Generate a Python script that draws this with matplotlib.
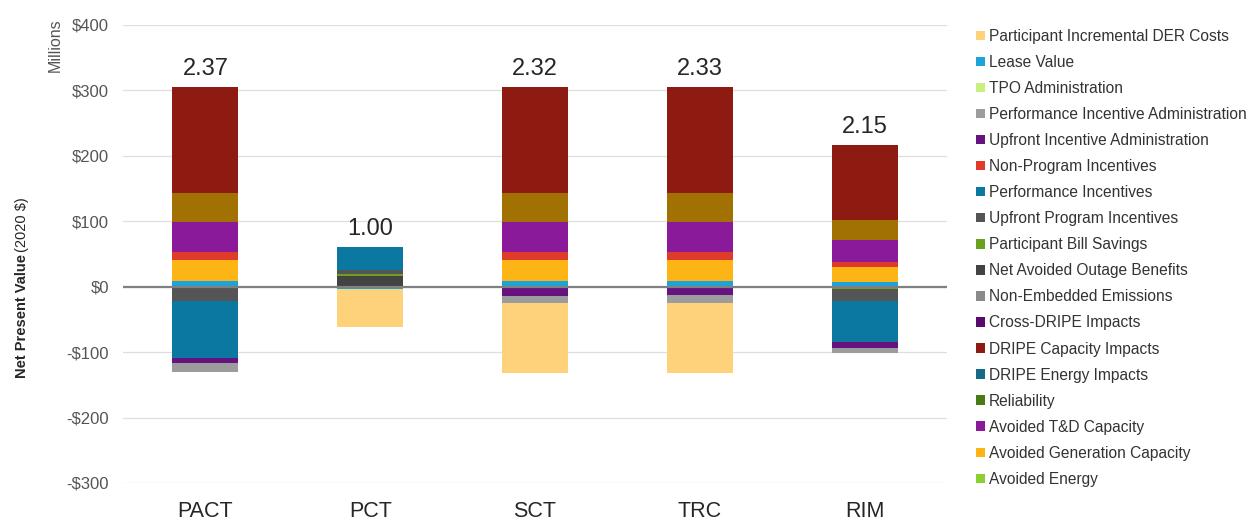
import numpy as np
import matplotlib
matplotlib.use("Agg")
import matplotlib.pyplot as plt
from matplotlib.ticker import FuncFormatter

plt.rcParams["font.family"] = ["Liberation Sans", "DejaVu Sans"]

# Cost-effectiveness tests and their benefit-cost ratios
tests = ["PACT", "PCT", "SCT", "TRC", "RIM"]
bcr = [2.37, 1.00, 2.32, 2.33, 2.15]

# Net present value by component, millions of 2020 $ (PACT, PCT, SCT, TRC, RIM)
participant_der_costs = [0, -57, -107.4, -107.4, 0]
lease_value = [9, -4, 9, 9, 6.5]
tpo_admin = [0, 0, 0, 0, 0]
perf_incentive_admin = [-13.8, 0, -11.2, -12.4, -8]
upfront_incentive_admin = [-7.6, 0, -13.7, -12, -9]
non_program_incentives = [12, 1, 12, 12, 7.5]
performance_incentives = [-87, 34, 0, 0, -61.6]
upfront_program_incentives = [-20, 6, 0, 0, -18.4]
participant_bill_savings = [-1.5, 3, 0, 0, -4]
net_avoided_outage = [0, 17, 0, 0, 0]
non_embedded_emissions = [0, 0, 0, 0, 0]
cross_dripe = [0, 0, 0, 0, 0]
dripe_capacity = [163, 0, 163, 163, 115]
dripe_energy = [0, 0, 0, 0, 0]
reliability = [0, 0, 0, 0, 0]
avoided_td_capacity = [46, 0, 46, 46, 34]
avoided_gen_capacity = [32, 0, 32, 32, 24]
avoided_energy = [0, 0, 0, 0, 0]
other_benefits = [44, 0, 44, 44, 30]

# Legend order (top to bottom)
legend_series = [
    ("Participant Incremental DER Costs", participant_der_costs, "#FDD27A"),
    ("Lease Value", lease_value, "#1BA3DA"),
    ("TPO Administration", tpo_admin, "#C9F07C"),
    ("Performance Incentive Administration", perf_incentive_admin, "#9C9C9C"),
    ("Upfront Incentive Administration", upfront_incentive_admin, "#661380"),
    ("Non-Program Incentives", non_program_incentives, "#E03A2A"),
    ("Performance Incentives", performance_incentives, "#0B78A1"),
    ("Upfront Program Incentives", upfront_program_incentives, "#555555"),
    ("Participant Bill Savings", participant_bill_savings, "#6AA121"),
    ("Net Avoided Outage Benefits", net_avoided_outage, "#434343"),
    ("Non-Embedded Emissions", non_embedded_emissions, "#8A8A8A"),
    ("Cross-DRIPE Impacts", cross_dripe, "#5A0A6A"),
    ("DRIPE Capacity Impacts", dripe_capacity, "#8E1B12"),
    ("DRIPE Energy Impacts", dripe_energy, "#156A8A"),
    ("Reliability", reliability, "#4A7A12"),
    ("Avoided T&D Capacity", avoided_td_capacity, "#8B1A9B"),
    ("Avoided Generation Capacity", avoided_gen_capacity, "#FDB515"),
    ("Avoided Energy", avoided_energy, "#8CD030"),
]
series = {name: (vals, col) for name, vals, col in legend_series}
series["Other Benefits"] = (other_benefits, "#A27103")

# Stacking order, from the zero line outward
stack_order = [
    "Lease Value", "Net Avoided Outage Benefits", "Participant Bill Savings",
    "Upfront Program Incentives", "Performance Incentives",
    "Avoided Generation Capacity", "Non-Program Incentives",
    "Avoided T&D Capacity", "Other Benefits", "DRIPE Capacity Impacts",
    "Upfront Incentive Administration", "Performance Incentive Administration",
    "Participant Incremental DER Costs",
    "TPO Administration", "Non-Embedded Emissions", "Cross-DRIPE Impacts",
    "DRIPE Energy Impacts", "Reliability", "Avoided Energy",
]

W, H = 1251, 525
fig = plt.figure(figsize=(W / 100, H / 100), dpi=100)
ax = fig.add_axes([123 / W, 1 - 483 / H, (947 - 123) / W, (483 - 25) / H])

x = np.arange(len(tests))
pos_base = np.zeros(len(tests))
neg_base = np.zeros(len(tests))
handles = {}
for name in stack_order:
    vals, col = series[name]
    v = np.array(vals, dtype=float)
    bottom = np.where(v >= 0, pos_base, neg_base)
    bc = ax.bar(x, v, width=0.4, bottom=bottom, color=col, linewidth=0, zorder=2)
    handles[name] = bc
    pos_base += np.where(v > 0, v, 0)
    neg_base += np.where(v < 0, v, 0)

ax.axhline(0, color="#808080", lw=1.6, zorder=3)

for xi, top, r in zip(x, pos_base, bcr):
    ax.annotate(f"{r:.2f}", (xi, top), xytext=(0, 5), textcoords="offset points",
                ha="center", va="bottom", fontsize=17, color="#262626")

ax.set_xlim(-0.5, len(tests) - 0.5)
ax.set_ylim(-300, 400)
ax.set_yticks(np.arange(-300, 401, 100))
ax.yaxis.set_major_formatter(FuncFormatter(lambda v, p: f"-${abs(v):.0f}" if v < 0 else f"${v:.0f}"))
ax.set_xticks(x)
ax.set_xticklabels(tests)
ax.tick_params(axis="x", length=0, pad=13, labelsize=15.5, labelcolor="#262626")
ax.tick_params(axis="y", length=0, pad=10, labelsize=12, labelcolor="#555555")
ax.yaxis.grid(True, color="#dedede", lw=0.9)
ax.set_axisbelow(True)
for s in ax.spines.values():
    s.set_visible(False)

# Axis titles
renderer = fig.canvas.get_renderer()
t1 = fig.text(22 / W, 1 - 378 / H, "Net Present Value", rotation=90, ha="center",
              va="bottom", fontsize=10.5, fontweight="bold", color="#262626")
bb = t1.get_window_extent(renderer)
fig.text(22 / W, bb.y1 / H + 0.004, "(2020 $)", rotation=90, ha="center", va="bottom",
         fontsize=10.5, color="#262626")
fig.text(55 / W, 1 - 45 / H, "Millions", rotation=90, ha="center", va="center",
         fontsize=11.5, color="#555555")

leg_handles = [handles[name] for name, _, _ in legend_series]
leg_labels = [name for name, _, _ in legend_series]
fig.legend(leg_handles, leg_labels, loc="upper left", bbox_to_anchor=(976 / W, 1 - 29 / H),
           frameon=False, fontsize=11.2, handlelength=0.55, handleheight=0.55,
           handletextpad=0.3, labelspacing=0.71, borderpad=0, borderaxespad=0,
           labelcolor="#333333")

fig.savefig("out.png", dpi=100, facecolor="white")
